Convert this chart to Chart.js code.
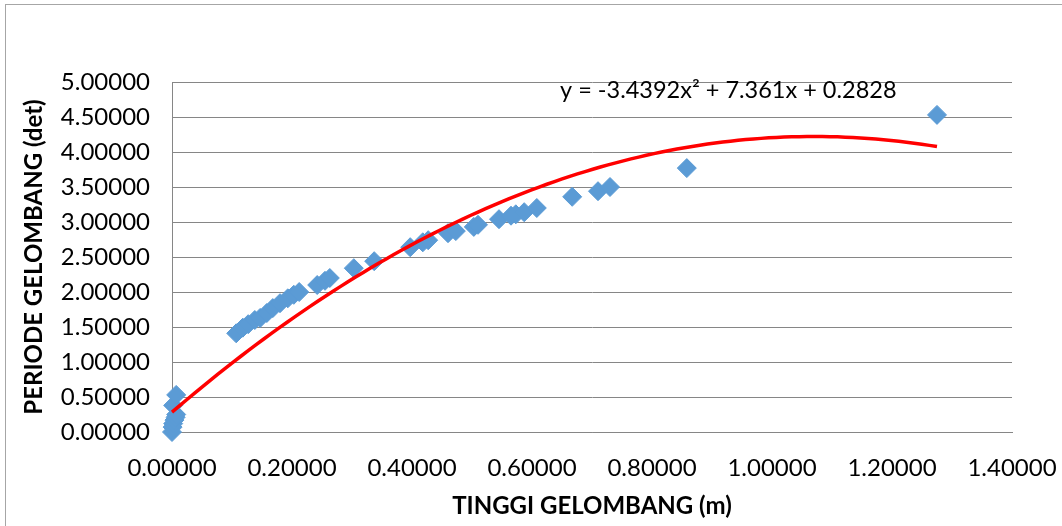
<!DOCTYPE html>
<html>
<head>
<meta charset="utf-8">
<script src="https://cdn.jsdelivr.net/npm/chart.js@4"></script>
<style>
  html, body { margin: 0; padding: 0; background: #fff; overflow: hidden; }
  #frame { position: absolute; left: 5px; top: 4px; width: 1100px; height: 600px; border: 1px solid #a6a6a6; }
  #wrap { position: absolute; left: 0; top: 0; width: 1062px; height: 526px; }
</style>
</head>
<body>
<div id="frame"></div>
<div id="wrap"><canvas id="myChart"></canvas></div>
<script>
'use strict';

// Data
let tinggi = [0.000, 0.001, 0.002, 0.004, 0.006, 0.007, 0.002, 0.007,
  0.107, 0.118, 0.127, 0.138, 0.147, 0.158, 0.168, 0.180, 0.193, 0.203, 0.212,
  0.242, 0.255, 0.263, 0.303, 0.337, 0.397, 0.418, 0.427, 0.460, 0.473, 0.503,
  0.510, 0.545, 0.565, 0.573, 0.587, 0.608, 0.667, 0.710, 0.730, 0.858, 1.275];
let periode = [0.00, 0.07, 0.12, 0.17, 0.21, 0.25, 0.38, 0.53,
  1.41, 1.49, 1.54, 1.60, 1.63, 1.70, 1.77, 1.84, 1.91, 1.96, 2.00,
  2.10, 2.16, 2.20, 2.34, 2.44, 2.64, 2.71, 2.74, 2.84, 2.87, 2.93,
  2.96, 3.04, 3.09, 3.11, 3.14, 3.20, 3.36, 3.44, 3.50, 3.77, 4.53];

// Polynomial trendline coefficients shown on the chart (a, b, c)
let trendCoef = [-3.4392, 7.361, 0.2828];
let trendLabel = 'y = -3.4392x\u00b2 + 7.361x + 0.2828';

let xTicks = [0, 0.2, 0.4, 0.6, 0.8, 1.0, 1.2, 1.4];
let yTicks = [0, 0.5, 1.0, 1.5, 2.0, 2.5, 3.0, 3.5, 4.0, 4.5, 5.0];

// Build datasets
let points = [];
for (let i = 0; i < tinggi.length; i++) {
  points.push({ x: tinggi[i], y: periode[i] });
}

let trend = [];
let xEnd = Math.max(...tinggi);
for (let i = 0; i <= 100; i++) {
  let x = xEnd * i / 100;
  trend.push({ x: x, y: trendCoef[0] * x * x + trendCoef[1] * x + trendCoef[2] });
}

let fontFamily = 'Lato, "Open Sans", sans-serif';

// Equation label
let equationPlugin = {
  id: 'equation',
  afterDatasetsDraw(chart) {
    let ctx = chart.ctx;
    let area = chart.chartArea;
    ctx.save();
    ctx.font = '23.5px ' + fontFamily;
    ctx.fillStyle = '#000';
    ctx.textBaseline = 'middle';
    ctx.fillText(trendLabel, area.left + 388, area.top + 8);
    ctx.restore();
  }
};

let ctx = document.getElementById('myChart').getContext('2d');
let myChart = new Chart(ctx, {
  type: 'scatter',
  data: {
    datasets: [{
      type: 'line',
      data: trend,
      borderColor: '#ff0000',
      borderWidth: 3.5,
      pointRadius: 0,
      tension: 0,
      fill: false,
      clip: false
    },
    {
      data: points,
      pointStyle: 'rectRot',
      pointRadius: 9.5,
      pointBackgroundColor: '#5b9bd5',
      pointBorderColor: '#5b9bd5',
      pointBorderWidth: 1,
      clip: false
    }]
  },
  options: {
    responsive: true,
    maintainAspectRatio: false,
    animation: false,
    layout: { padding: { left: 10, top: 82, right: 50, bottom: 0 } },
    plugins: {
      legend: { display: false },
      tooltip: { enabled: false }
    },
    scales: {
      x: {
        type: 'linear',
        min: 0,
        max: 1.4,
        afterBuildTicks(axis) { axis.ticks = xTicks.map(v => ({ value: v })); },
        afterFit(axis) {
          axis.height = 94;
          axis.paddingLeft = 0;
          axis.paddingRight = 0;
        },
        grid: { display: false, drawTicks: false },
        border: { color: '#868686', width: 1 },
        ticks: {
          padding: 22,
          color: '#000',
          font: { family: fontFamily, size: 24 },
          callback: v => v.toFixed(5)
        },
        title: {
          display: true,
          text: 'TINGGI GELOMBANG (m)',
          color: '#000',
          font: { family: fontFamily, size: 24, weight: 'bold' },
          padding: { top: 0, bottom: 5 }
        }
      },
      y: {
        type: 'linear',
        min: 0,
        max: 5,
        afterBuildTicks(axis) { axis.ticks = yTicks.map(v => ({ value: v })); },
        afterFit(axis) {
          axis.width = 162;
          axis.paddingTop = 0;
          axis.paddingBottom = 0;
        },
        grid: { color: '#868686', lineWidth: 1, drawTicks: false },
        border: { color: '#868686', width: 1 },
        ticks: {
          padding: 22,
          color: '#000',
          font: { family: fontFamily, size: 24 },
          callback: v => v.toFixed(5)
        },
        title: {
          display: true,
          text: 'PERIODE GELOMBANG (det)',
          color: '#000',
          font: { family: fontFamily, size: 24, weight: 'bold' },
          padding: { top: 10, bottom: 0 }
        }
      }
    }
  },
  plugins: [equationPlugin]
});
</script>
</body>
</html>
